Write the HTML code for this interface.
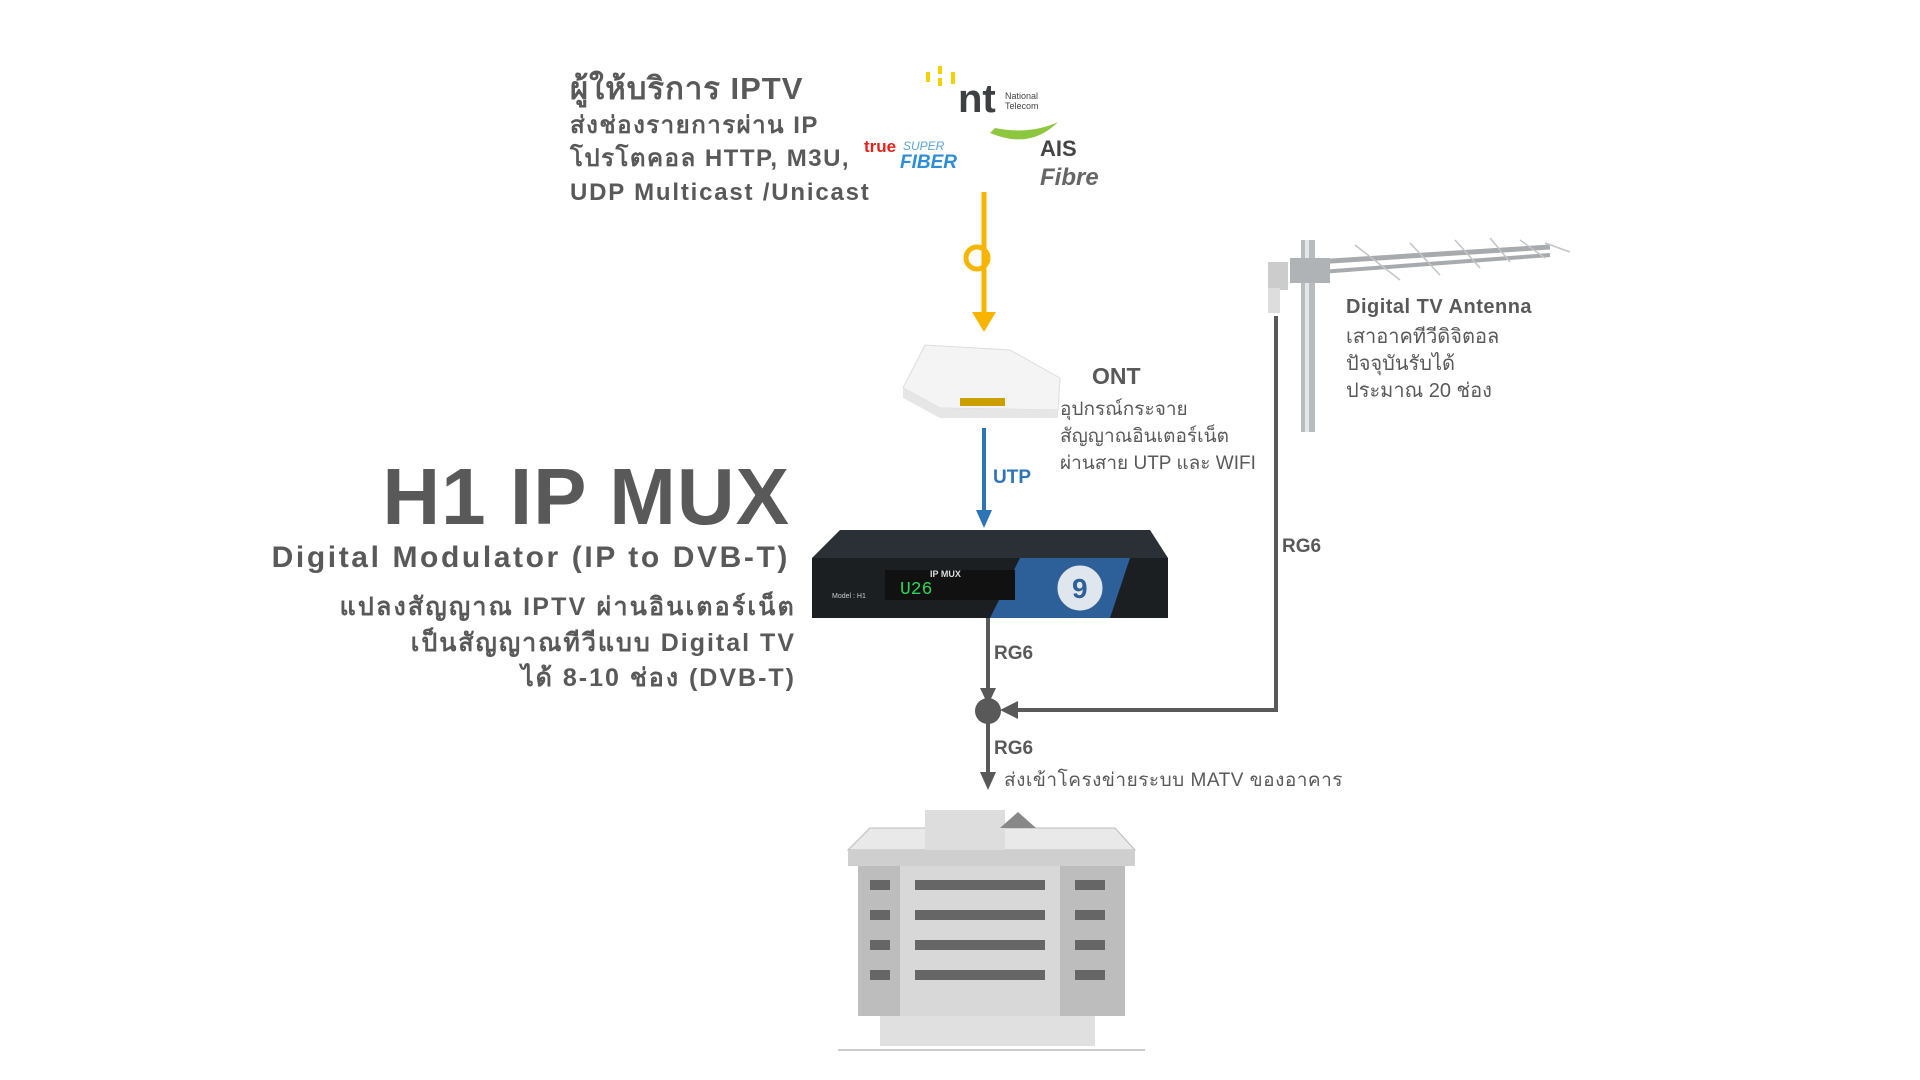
<!DOCTYPE html>
<html><head><meta charset="utf-8"><style>
html,body{margin:0;padding:0;background:#fff;width:1920px;height:1080px;overflow:hidden}
svg{display:block}
text{font-family:"Liberation Sans","DejaVu Sans",sans-serif;fill:#595959}
.b{font-weight:bold}
</style></head><body>
<svg width="1920" height="1080" viewBox="0 0 1920 1080" xmlns="http://www.w3.org/2000/svg">
<!-- top text -->
<text x="570" y="99" class="b" font-size="31" letter-spacing="1">ผู้ให้บริการ IPTV</text>
<text x="570" y="133" class="b" font-size="24" letter-spacing="1.5">ส่งช่องรายการผ่าน IP</text>
<text x="570" y="166" class="b" font-size="24" letter-spacing="1.5">โปรโตคอล  HTTP, M3U,</text>
<text x="570" y="200" class="b" font-size="24" letter-spacing="1.8">UDP Multicast /Unicast</text>
<!-- logos -->
<g>
<rect x="926" y="72" width="4" height="10" fill="#f2d200"/><rect x="938" y="66" width="4" height="8" fill="#f2d200"/><rect x="938" y="78" width="4" height="8" fill="#f2d200"/><rect x="951" y="72" width="4" height="12" fill="#f2d200"/>
<text x="958" y="112" class="b" font-size="40" style="fill:#3c4043">nt</text>
<text x="1005" y="99" font-size="9" style="fill:#444">National</text>
<text x="1005" y="109" font-size="9" style="fill:#444">Telecom</text>
<path d="M990 133 Q1030 150 1058 122 Q1030 135 995 128 Z" fill="#8dc63f"/>
<text x="1040" y="156" class="b" font-size="22" style="fill:#444">AIS</text>
<text x="1040" y="185" class="b" font-size="24" font-style="italic" style="fill:#666">Fibre</text>
<text x="864" y="152" class="b" font-size="17" style="fill:#e2231a">true</text>
<text x="903" y="150" font-size="12" font-style="italic" style="fill:#5aa3d8">SUPER</text>
<text x="900" y="168" class="b" font-size="19" font-style="italic" style="fill:#2d8ed8">FIBER</text>
</g>
<!-- yellow arrow -->
<line x1="984" y1="192" x2="984" y2="316" stroke="#f7b500" stroke-width="5"/>
<circle cx="977" cy="258" r="11" fill="none" stroke="#f7b500" stroke-width="5"/>
<path d="M972 312 L996 312 L984 332 Z" fill="#f7b500"/>
<!-- ONT -->
<g>
<path d="M903 388 L925 345 L1010 350 L1060 378 L1058 410 L940 408 Z" fill="#f4f4f4" stroke="#ddd"/>
<path d="M903 388 L940 408 L1058 410 L1058 418 L940 418 L903 398 Z" fill="#e6e6e6"/>
<rect x="960" y="398" width="45" height="8" fill="#c9a000"/>
</g>
<text x="1092" y="384" class="b" font-size="23">ONT</text>
<text x="1060" y="415" font-size="19">อุปกรณ์กระจาย</text>
<text x="1060" y="442" font-size="19">สัญญาณอินเตอร์เน็ต</text>
<text x="1060" y="469" font-size="19">ผ่านสาย UTP และ WIFI</text>
<!-- UTP arrow -->
<line x1="984" y1="428" x2="984" y2="512" stroke="#2e75b6" stroke-width="4"/>
<path d="M976 510 L992 510 L984 528 Z" fill="#2e75b6"/>
<text x="993" y="483" class="b" font-size="19" style="fill:#2e75b6">UTP</text>
<!-- H1 text -->
<text x="790" y="524" class="b" font-size="80" text-anchor="end" letter-spacing="1">H1 IP MUX</text>
<text x="790" y="567" class="b" font-size="30" text-anchor="end" letter-spacing="2.6">Digital Modulator (IP to DVB-T)</text>
<text x="796" y="615" class="b" font-size="25" text-anchor="end" letter-spacing="2.2">แปลงสัญญาณ IPTV ผ่านอินเตอร์เน็ต</text>
<text x="796" y="651" class="b" font-size="25" text-anchor="end" letter-spacing="2">เป็นสัญญาณทีวีแบบ Digital TV</text>
<text x="796" y="686" class="b" font-size="25" text-anchor="end" letter-spacing="2">ได้ 8-10 ช่อง (DVB-T)</text>
<!-- MUX device -->
<g>
<path d="M812 558 L840 530 L1150 530 L1168 558 Z" fill="#2a3035"/>
<rect x="812" y="558" width="356" height="60" fill="#1c1f22"/>
<path d="M1020 558 L1130 558 L1110 618 L990 618 Z" fill="#2d5f98"/>
<circle cx="1080" cy="588" r="24" fill="#dfe6ee" stroke="#2d5f98" stroke-width="3"/>
<text x="1072" y="598" class="b" font-size="28" style="fill:#2d5f98">9</text>
<rect x="885" y="570" width="130" height="30" fill="#111"/>
<text x="900" y="594" font-size="18" style="fill:#2fd35a;font-family:'Liberation Mono',monospace">U26</text>
<text x="930" y="577" class="b" font-size="9" style="fill:#ddd">IP MUX</text>
<text x="832" y="598" font-size="7" style="fill:#ccc">Model : H1</text>
</g>
<!-- RG6 lines -->
<line x1="988" y1="618" x2="988" y2="692" stroke="#595959" stroke-width="4"/>
<path d="M980 688 L996 688 L988 705 Z" fill="#595959"/>
<circle cx="988" cy="711" r="13" fill="#595959"/>
<line x1="988" y1="711" x2="988" y2="775" stroke="#595959" stroke-width="4"/>
<path d="M980 772 L996 772 L988 790 Z" fill="#595959"/>
<text x="994" y="659" class="b" font-size="19">RG6</text>
<text x="994" y="754" class="b" font-size="19">RG6</text>
<text x="1004" y="786" font-size="19" letter-spacing="0.5">ส่งเข้าโครงข่ายระบบ MATV ของอาคาร</text>
<polyline points="1276,316 1276,710 1016,710" fill="none" stroke="#595959" stroke-width="4"/>
<path d="M1000 710 L1018 701 L1018 719 Z" fill="#595959"/>
<text x="1282" y="552" class="b" font-size="19">RG6</text>
<!-- Antenna -->
<g>
<rect x="1301" y="240" width="14" height="192" fill="#b9bcbf"/>
<rect x="1305" y="240" width="4" height="192" fill="#e4e6e8"/>
<line x1="1300" y1="263" x2="1550" y2="247" stroke="#a8abae" stroke-width="5"/>
<line x1="1320" y1="272" x2="1550" y2="255" stroke="#a8abae" stroke-width="4"/>
<g stroke="#c2c4c6" stroke-width="1.5">
<line x1="1355" y1="245" x2="1400" y2="280"/><line x1="1410" y1="243" x2="1440" y2="275"/>
<line x1="1455" y1="240" x2="1480" y2="268"/><line x1="1490" y1="238" x2="1510" y2="262"/>
<line x1="1520" y1="240" x2="1545" y2="258"/><line x1="1545" y1="243" x2="1570" y2="252"/>
</g>
<rect x="1290" y="258" width="40" height="25" fill="#b0b3b6"/>
<rect x="1268" y="262" width="20" height="28" fill="#ccc"/>
<rect x="1268" y="288" width="12" height="25" fill="#ddd"/>
</g>
<text x="1346" y="313" class="b" font-size="20" letter-spacing="0.5">Digital TV Antenna</text>
<text x="1346" y="343" font-size="20">เสาอาคทีวีดิจิตอล</text>
<text x="1346" y="370" font-size="20">ปัจจุบันรับได้</text>
<text x="1346" y="397" font-size="20">ประมาณ 20 ช่อง</text>
<!-- Building -->
<g>
<path d="M848 850 L870 828 L1115 828 L1135 850 Z" fill="#e9e9e9" stroke="#bbb"/>
<rect x="925" y="810" width="80" height="40" fill="#ddd"/>
<path d="M1000 828 L1018 812 L1036 828 Z" fill="#888"/>
<rect x="848" y="850" width="287" height="16" fill="#cfcfcf"/>
<rect x="858" y="866" width="267" height="150" fill="#bdbdbd"/>
<rect x="900" y="866" width="160" height="150" fill="#d8d8d8"/>
<g fill="#666">
<rect x="870" y="880" width="20" height="10"/><rect x="870" y="910" width="20" height="10"/><rect x="870" y="940" width="20" height="10"/><rect x="870" y="970" width="20" height="10"/>
<rect x="915" y="880" width="130" height="10"/><rect x="915" y="910" width="130" height="10"/><rect x="915" y="940" width="130" height="10"/><rect x="915" y="970" width="130" height="10"/>
<rect x="1075" y="880" width="30" height="10"/><rect x="1075" y="910" width="30" height="10"/><rect x="1075" y="940" width="30" height="10"/><rect x="1075" y="970" width="30" height="10"/>
</g>
<rect x="880" y="1016" width="215" height="30" fill="#e0e0e0"/>
<line x1="838" y1="1050" x2="1145" y2="1050" stroke="#999"/>
</g>
</svg>
</body></html>
